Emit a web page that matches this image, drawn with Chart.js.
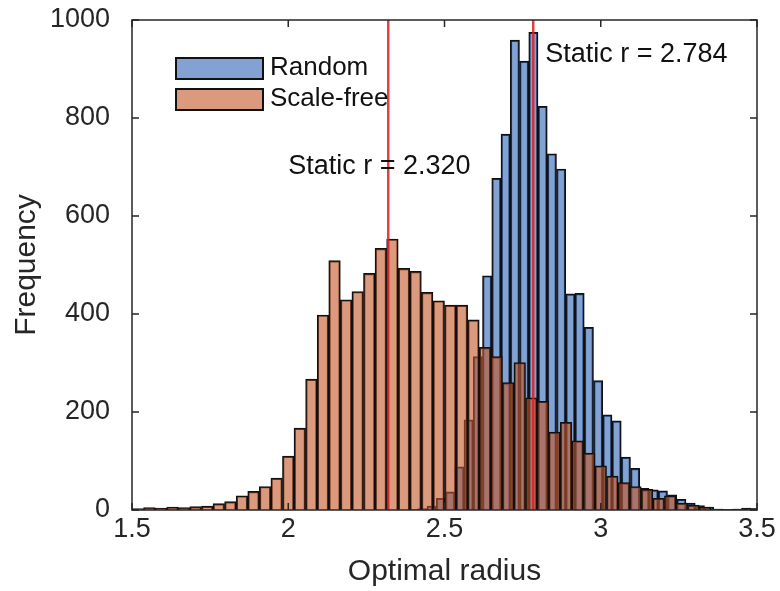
<!DOCTYPE html>
<html>
<head>
<meta charset="utf-8">
<script src="https://cdn.jsdelivr.net/npm/chart.js@4.4.0/dist/chart.umd.min.js"></script>
<style>
  html, body { margin: 0; padding: 0; background: #fff; }
  #wrap { width: 780px; height: 591px; }
</style>
</head>
<body>
<div id="wrap"><canvas id="hist-chart"></canvas></div>
<script>
document.addEventListener("DOMContentLoaded", function() {

  // histogram bins (start + width), counts
  const sfStart = 1.5;
  const sfWidth = 2 / 54;
  const sfCounts = [3, 5, 4, 6, 5, 7, 8, 13, 17, 29, 38, 48, 65, 110, 167, 267, 398, 509, 429, 446,
    483, 534, 553, 493, 487, 444, 427, 418, 418, 388, 332, 313, 260, 301, 229, 222, 159, 179, 141, 116,
    90, 69, 56, 48, 42, 24, 29, 14, 10, 6, 2, 1, 2, 3];

  const rdStart = 2.3848;
  const rdWidth = 0.0296;
  const rdCounts = [1, 3, 8, 24, 37, 88, 184, 313, 478, 677, 767, 959, 916, 975, 824, 727, 696, 441, 442, 373,
    264, 194, 182, 108, 85, 44, 41, 39, 31, 22, 14, 9, 6, 2, 1, 2, 4, 3];

  const staticR = [2.320, 2.784];
  const xTicks = [1.5, 2, 2.5, 3, 3.5];
  const yTicks = [0, 200, 400, 600, 800, 1000];

  const font = "'Liberation Sans', Arial, Helvetica, sans-serif";
  const axisColor = '#262626';
  const blueFill = 'rgba(45,100,180,0.6)';
  const orangeFill = 'rgba(195,85,40,0.6)';

  const sfData = sfCounts.map((c, i) => ({ x: sfStart + (i + 0.5) * sfWidth, y: c }));
  const rdData = rdCounts.map((c, i) => ({ x: rdStart + (i + 0.5) * rdWidth, y: c }));

  const barStyle = {
    borderColor: '#111',
    borderWidth: 1.5,
    barPercentage: 1,
    categoryPercentage: 1,
    grouped: false
  };

  // red lines, labels, legend, axis box
  const extras = {
    id: 'extras',
    afterDatasetsDraw(chart) {
      const { ctx, chartArea: a, scales: { x, y } } = chart;
      ctx.save();
      ctx.strokeStyle = 'rgba(222,30,36,0.85)';
      ctx.lineWidth = 2.5;
      staticR.forEach(r => {
        const px = x.getPixelForValue(r);
        ctx.beginPath();
        ctx.moveTo(px, a.top);
        ctx.lineTo(px, a.bottom);
        ctx.stroke();
      });

      ctx.fillStyle = '#111';
      ctx.font = '27px ' + font;
      ctx.textBaseline = 'middle';
      ctx.textAlign = 'left';
      ctx.fillText('Static r = ' + staticR[0].toFixed(3), x.getPixelForValue(2.0), y.getPixelForValue(700));
      ctx.fillText('Static r = ' + staticR[1].toFixed(3), x.getPixelForValue(2.822), y.getPixelForValue(930));

      // legend
      const items = [['Random', blueFill], ['Scale-free', orangeFill]];
      items.forEach((it, i) => {
        const top = 58 + i * 31;
        ctx.fillStyle = '#fff';
        ctx.fillRect(176, top, 87, 21);
        ctx.fillStyle = it[1];
        ctx.fillRect(176, top, 87, 21);
        ctx.strokeStyle = '#111';
        ctx.lineWidth = 2;
        ctx.strokeRect(176, top, 87, 21);
        ctx.fillStyle = '#111';
        ctx.font = '26px ' + font;
        ctx.fillText(it[0], 270, top + 10);
      });
      ctx.restore();
    },
    afterDraw(chart) {
      const { ctx, chartArea: a, scales: { x, y } } = chart;
      ctx.save();
      ctx.strokeStyle = axisColor;
      ctx.lineWidth = 1.5;
      ctx.strokeRect(a.left, a.top, a.right - a.left, a.bottom - a.top);
      const tl = 7;
      ctx.beginPath();
      xTicks.forEach(v => {
        const px = x.getPixelForValue(v);
        ctx.moveTo(px, a.bottom); ctx.lineTo(px, a.bottom - tl);
        ctx.moveTo(px, a.top); ctx.lineTo(px, a.top + tl);
      });
      yTicks.forEach(v => {
        const py = y.getPixelForValue(v);
        ctx.moveTo(a.left, py); ctx.lineTo(a.left + tl, py);
        ctx.moveTo(a.right, py); ctx.lineTo(a.right - tl, py);
      });
      ctx.stroke();
      ctx.restore();
    }
  };

  new Chart(document.getElementById('hist-chart'), {
    type: 'bar',
    data: {
      datasets: [
        Object.assign({ label: 'Scale-free', data: sfData, xAxisID: 'x', backgroundColor: orangeFill }, barStyle),
        Object.assign({ label: 'Random', data: rdData, xAxisID: 'x2', backgroundColor: blueFill }, barStyle)
      ]
    },
    options: {
      responsive: true,
      maintainAspectRatio: false,
      animation: false,
      layout: { autoPadding: false, padding: { top: 20, right: 23, left: 0, bottom: 0 } },
      plugins: {
        legend: { display: false },
        tooltip: { enabled: false }
      },
      scales: {
        x: {
          type: 'linear',
          position: 'bottom',
          min: 1.5,
          max: 3.5,
          offset: false,
          grid: { display: false },
          border: { display: false },
          afterBuildTicks: s => { s.ticks = xTicks.map(v => ({ value: v })); },
          afterFit: s => { s.height = 81; s.paddingLeft = 0; s.paddingRight = 0; },
          ticks: {
            color: axisColor,
            font: { family: font, size: 27 },
            padding: -5,
            maxRotation: 0,
            autoSkip: false,
            callback: v => String(v)
          },
          title: {
            display: true,
            text: 'Optimal radius',
            color: axisColor,
            font: { family: font, size: 30 },
            padding: { top: 0, bottom: 1 }
          }
        },
        x2: {
          type: 'linear',
          position: 'bottom',
          min: 1.5,
          max: 3.5,
          offset: false,
          display: false
        },
        y: {
          min: 0,
          max: 1000,
          grid: { display: false },
          border: { display: false },
          afterBuildTicks: s => { s.ticks = yTicks.map(v => ({ value: v })); },
          afterFit: s => { s.width = 132; s.paddingTop = 0; s.paddingBottom = 0; },
          ticks: {
            color: axisColor,
            font: { family: font, size: 27 },
            padding: 14,
            callback: v => String(v)
          },
          title: {
            display: true,
            text: 'Frequency',
            color: axisColor,
            font: { family: font, size: 30 },
            padding: { top: 9, bottom: 0 }
          }
        }
      }
    },
    plugins: [extras]
  });

});
</script>
</body>
</html>
